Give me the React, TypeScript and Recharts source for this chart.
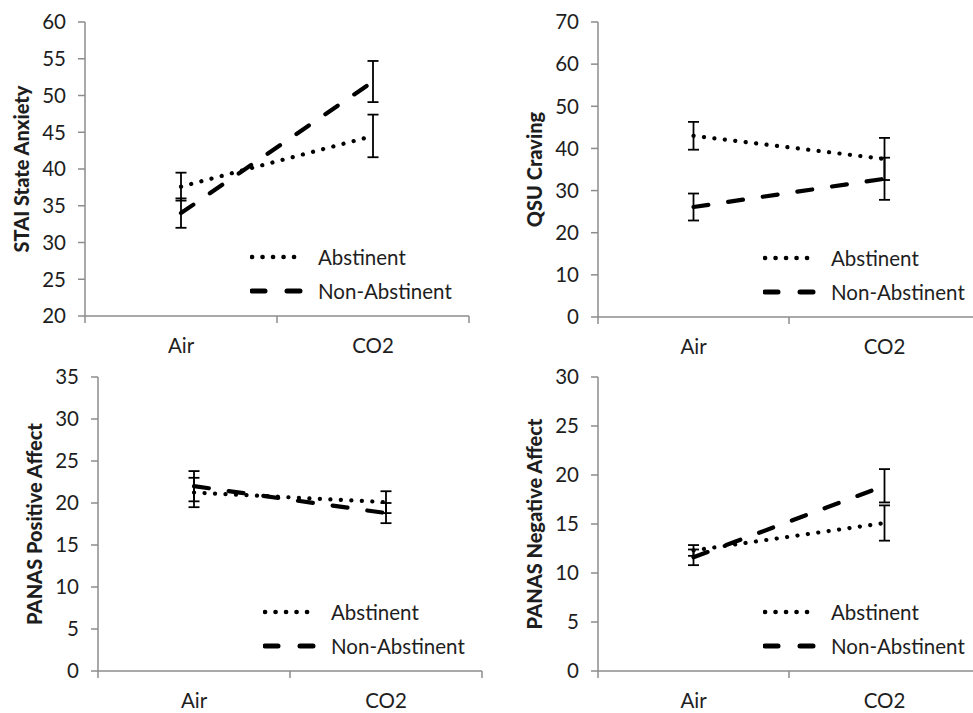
import React from "react";
import { LineChart, Line, XAxis, YAxis, ErrorBar, Legend } from "recharts";

// ---- data ----
const categories = ["Air", "CO2"];
const seriesNames = ["Abstinent", "Non-Abstinent"];

const staiAbstinent = [37.6, 44.5];
const staiAbstinentErr = [1.9, 2.9];
const staiNonAbstinent = [34.0, 51.9];
const staiNonAbstinentErr = [2.0, 2.8];
const staiTicks = [20, 25, 30, 35, 40, 45, 50, 55, 60];

const qsuAbstinent = [43.0, 37.5];
const qsuAbstinentErr = [3.3, 5.0];
const qsuNonAbstinent = [26.1, 32.8];
const qsuNonAbstinentErr = [3.2, 5.0];
const qsuTicks = [0, 10, 20, 30, 40, 50, 60, 70];

const posAbstinent = [21.25, 20.1];
const posAbstinentErr = [1.75, 1.3];
const posNonAbstinent = [22.0, 18.8];
const posNonAbstinentErr = [1.8, 1.2];
const posTicks = [0, 5, 10, 15, 20, 25, 30, 35];

const negAbstinent = [12.3, 15.1];
const negAbstinentErr = [0.55, 1.8];
const negNonAbstinent = [11.6, 18.9];
const negNonAbstinentErr = [0.8, 1.7];
const negTicks = [0, 5, 10, 15, 20, 25, 30];

// ---- styles ----
const FONT = "Lato, 'Open Sans', sans-serif";
const TEXT = "#1e1e1e";
const AXIS = "#8c8c8c";
const LINE_STYLES = [
  { dash: "0.1 10.4", width: 4.2, cap: "round" as const, legendDash: "0.1 10.4", legendWidth: 4.6 },
  { dash: "15 20", width: 4.2, cap: "round" as const, legendDash: "13 22", legendWidth: 5 },
];

function buildRows(a: number[], aErr: number[], n: number[], nErr: number[]) {
  return categories.map((c, i) => ({
    x: i + 0.5,
    cat: c,
    abst: a[i],
    abstErr: aErr[i],
    non: n[i],
    nonErr: nErr[i],
  }));
}

function XTick(props: any) {
  const { x, y, payload } = props;
  const v = payload.value;
  if (Number.isInteger(v)) {
    return <line x1={x} x2={x} y1={y - 7} y2={y} stroke={AXIS} strokeWidth={1.5} />;
  }
  const label = categories[Math.floor(v)];
  return (
    <text x={x} y={y + 30} textAnchor="middle" fill={TEXT} fontSize={20.5} fontFamily={FONT}>
      {label}
    </text>
  );
}

function LegendContent() {
  return (
    <div style={{ fontFamily: FONT, fontSize: 20.5, color: TEXT, lineHeight: "34px" }}>
      {seriesNames.map((name, i) => (
        <div key={name} style={{ display: "flex", alignItems: "center", height: 34, whiteSpace: "nowrap" }}>
          <svg width={56} height={34} style={{ display: "block" }}>
            <line
              x1={2}
              x2={54}
              y1={17}
              y2={17}
              stroke="#000"
              strokeWidth={LINE_STYLES[i].legendWidth}
              strokeDasharray={LINE_STYLES[i].legendDash}
              strokeLinecap="round"
            />
          </svg>
          <span style={{ marginLeft: 12 }}>{name}</span>
        </div>
      ))}
    </div>
  );
}

type PanelProps = {
  rows: any[];
  ticks: number[];
  label: string;
  left: number;
  top: number;
  width: number;
  height: number;
  axisWidth: number;
  mTop: number;
  mBottom: number;
  mRight: number;
};

function Panel(p: PanelProps) {
  const plotLeft = p.axisWidth;
  const plotBottom = p.height - p.mBottom;
  return (
    <div style={{ position: "absolute", left: p.left, top: p.top, width: p.width, height: p.height }}>
      <LineChart
        width={p.width}
        height={p.height}
        data={p.rows}
        margin={{ top: p.mTop, right: p.mRight, bottom: 0, left: 0 }}
      >
        <XAxis
          dataKey="x"
          type="number"
          domain={[0, 2]}
          ticks={[0, 0.5, 1, 1.5, 2]}
          tick={<XTick />}
          tickLine={false}
          tickSize={7}
          tickMargin={0}
          axisLine={{ stroke: AXIS, strokeWidth: 1.5 }}
          height={p.mBottom}
          interval={0}
          allowDataOverflow
        />
        <YAxis
          type="number"
          domain={[p.ticks[0], p.ticks[p.ticks.length - 1]]}
          ticks={p.ticks}
          interval={0}
          width={p.axisWidth}
          tickSize={7}
          tickMargin={12}
          tick={{ fill: TEXT, fontSize: 20.5, fontFamily: FONT }}
          tickLine={{ stroke: AXIS, strokeWidth: 1.5 }}
          axisLine={{ stroke: AXIS, strokeWidth: 1.5 }}
          label={(lp: any) => {
            const vb = lp.viewBox || {};
            const cx = vb.x + vb.width - 64;
            const cy = vb.y + vb.height / 2;
            return (
              <text
                x={cx}
                y={cy}
                transform={`rotate(-90 ${cx} ${cy})`}
                textAnchor="middle"
                dominantBaseline="central"
                fontFamily={FONT}
                fontWeight={900}
                fontSize={20}
                fill={TEXT}
              >
                {p.label}
              </text>
            );
          }}
        />
        <Legend
          layout="vertical"
          align="center"
          verticalAlign="middle"
          content={<LegendContent />}
          wrapperStyle={{ left: plotLeft + 165, top: plotBottom - 59 - 17, width: "auto" }}
        />
        <Line
          name={seriesNames[0]}
          dataKey="abst"
          stroke="#000"
          strokeWidth={LINE_STYLES[0].width}
          strokeDasharray={LINE_STYLES[0].dash}
          strokeLinecap={LINE_STYLES[0].cap}
          dot={false}
          activeDot={false}
          isAnimationActive={false}
        >
          <ErrorBar dataKey="abstErr" direction="y" width={5.5} stroke="#000" strokeWidth={1.8} isAnimationActive={false} />
        </Line>
        <Line
          name={seriesNames[1]}
          dataKey="non"
          stroke="#000"
          strokeWidth={LINE_STYLES[1].width}
          strokeDasharray={LINE_STYLES[1].dash}
          strokeLinecap={LINE_STYLES[1].cap}
          dot={false}
          activeDot={false}
          isAnimationActive={false}
        >
          <ErrorBar dataKey="nonErr" direction="y" width={5.5} stroke="#000" strokeWidth={1.8} isAnimationActive={false} />
        </Line>
      </LineChart>
    </div>
  );
}

export default function App() {
  return (
    <div
      style={{
        position: "absolute",
        left: 0,
        top: 0,
        width: 973,
        height: 713,
        overflow: "hidden",
        background: "#fff",
      }}
    >
      <Panel
        rows={buildRows(staiAbstinent, staiAbstinentErr, staiNonAbstinent, staiNonAbstinentErr)}
        ticks={staiTicks}
        label="STAI State Anxiety"
        left={0}
        top={0}
        width={480}
        height={360}
        axisWidth={85}
        mTop={22}
        mBottom={44}
        mRight={11}
      />
      <Panel
        rows={buildRows(qsuAbstinent, qsuAbstinentErr, qsuNonAbstinent, qsuNonAbstinentErr)}
        ticks={qsuTicks}
        label="QSU Craving"
        left={480}
        top={0}
        width={500}
        height={360}
        axisWidth={118}
        mTop={22}
        mBottom={43}
        mRight={0}
      />
      <Panel
        rows={buildRows(posAbstinent, posAbstinentErr, posNonAbstinent, posNonAbstinentErr)}
        ticks={posTicks}
        label="PANAS Positive Affect"
        left={0}
        top={340}
        width={490}
        height={373}
        axisWidth={98}
        mTop={37}
        mBottom={42}
        mRight={8}
      />
      <Panel
        rows={buildRows(negAbstinent, negAbstinentErr, negNonAbstinent, negNonAbstinentErr)}
        ticks={negTicks}
        label="PANAS Negative Affect"
        left={480}
        top={340}
        width={500}
        height={373}
        axisWidth={118}
        mTop={37}
        mBottom={42}
        mRight={0}
      />
    </div>
  );
}
